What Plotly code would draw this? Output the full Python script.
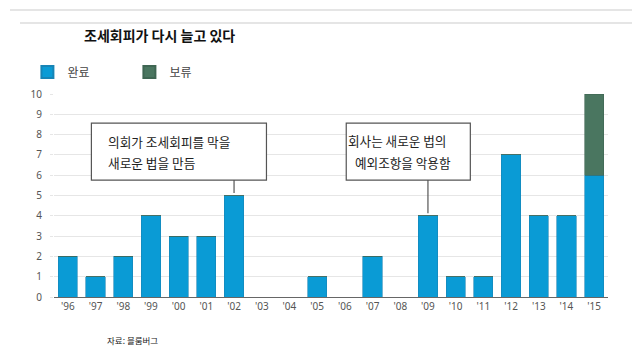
import plotly.graph_objects as go

years = ["'96", "'97", "'98", "'99", "'00", "'01", "'02", "'03", "'04", "'05",
         "'06", "'07", "'08", "'09", "'10", "'11", "'12", "'13", "'14", "'15"]
completed = [2, 1, 2, 4, 3, 3, 5, 0, 0, 1, 0, 2, 0, 4, 1, 1, 7, 4, 4, 6]
pending = [0, 0, 0, 0, 0, 0, 0, 0, 0, 0, 0, 0, 0, 0, 0, 0, 0, 0, 0, 4]
y_ticks = list(range(0, 11))

BLUE = "#0a9bd5"
GREEN = "#4a7660"
FONT = "Noto Sans CJK KR"

fig = go.Figure()
fig.add_trace(go.Bar(x=years, y=completed, name="완료", marker=dict(color=BLUE, line=dict(color="#1784b5", width=0.6))))
fig.add_trace(go.Bar(x=years, y=pending, name="보류", marker=dict(color=GREEN, line=dict(color="#3f6653", width=0.6))))

fig.update_layout(
    width=640, height=361,
    margin=dict(l=46, r=40, t=86, b=72),
    barmode="stack", bargap=0.31,
    plot_bgcolor="white", paper_bgcolor="white",
    font=dict(family=FONT, size=10, color="#555"),
    showlegend=True,
    legend=dict(orientation="h", traceorder="normal", x=-0.048, xanchor="left", y=1.108, yanchor="middle",
                entrywidth=57, entrywidthmode="pixels",
                font=dict(size=12, color="#444", family=FONT), itemsizing="constant"),
    xaxis=dict(type="category", range=[-0.5, 19.5], showgrid=False, showline=True,
               linecolor="#666", linewidth=1.2, ticks="", tickfont=dict(size=10, color="#555", family="Noto Sans")),
    yaxis=dict(range=[0, 10], tickvals=y_ticks, showgrid=True, gridcolor="#e6e6e6", gridwidth=1,
               zeroline=False, ticks="outside", ticklen=3, tickcolor="#e6e6e6",
               tickfont=dict(size=10, color="#555", family="Noto Sans"), ticklabelstandoff=6),
)

# top decorative lines
fig.add_shape(type="line", xref="paper", yref="paper", x0=(10-54)/554, x1=(640-54)/554,
              y0=(297-10)/203, y1=(297-10)/203, line=dict(color="#dcdcdc", width=1.5))
fig.add_shape(type="line", xref="paper", yref="paper", x0=(20-54)/554, x1=(640-54)/554,
              y0=(297-23)/203, y1=(297-23)/203, line=dict(color="#dcdcdc", width=1.5))

# title
fig.add_annotation(text="<b>조세회피가 다시 늘고 있다</b>", xref="paper", yref="paper",
                   x=(82-54)/554, y=(297-35)/203, xanchor="left", yanchor="middle",
                   showarrow=False, font=dict(size=14, color="#111", family=FONT))

# callout boxes
fig.add_shape(type="rect", xref="x", yref="y", x0=0.85, x1=7.17, y0=5.76, y1=8.57,
              line=dict(color="#555", width=1.2), fillcolor="white")
fig.add_shape(type="line", xref="x", yref="y", x0=6, x1=6, y0=5.12, y1=5.76,
              line=dict(color="#555", width=1.2))
fig.add_annotation(text="의회가 조세회피를 막을", xref="x", yref="y",
                   x=1.39, y=7.68, xanchor="left", yanchor="middle",
                   showarrow=False, font=dict(size=12.7, color="#222", family=FONT))
fig.add_annotation(text="새로운 법을 만듬", xref="x", yref="y",
                   x=1.39, y=6.65, xanchor="left", yanchor="middle",
                   showarrow=False, font=dict(size=12.7, color="#222", family=FONT))

fig.add_shape(type="rect", xref="x", yref="y", x0=10.05, x1=14.53, y0=5.76, y1=8.57,
              line=dict(color="#555", width=1.2), fillcolor="white")
fig.add_shape(type="line", xref="x", yref="y", x0=13, x1=13, y0=4.12, y1=5.76,
              line=dict(color="#555", width=1.2))
fig.add_annotation(text="회사는 새로운 법의", xref="x", yref="y",
                   x=10.05, y=7.73, xanchor="left", yanchor="middle",
                   showarrow=False, font=dict(size=12.6, color="#222", family=FONT))
fig.add_annotation(text="예외조항을 악용함", xref="x", yref="y",
                   x=10.3, y=6.65, xanchor="left", yanchor="middle",
                   showarrow=False, font=dict(size=12.6, color="#222", family=FONT))

# source
fig.add_annotation(text="자료: 블룸버그", xref="paper", yref="paper",
                   x=(105-54)/554, y=(297-340)/203, xanchor="left", yanchor="middle",
                   showarrow=False, font=dict(size=8.5, color="#222", family=FONT))

fig.write_html("out.html")
